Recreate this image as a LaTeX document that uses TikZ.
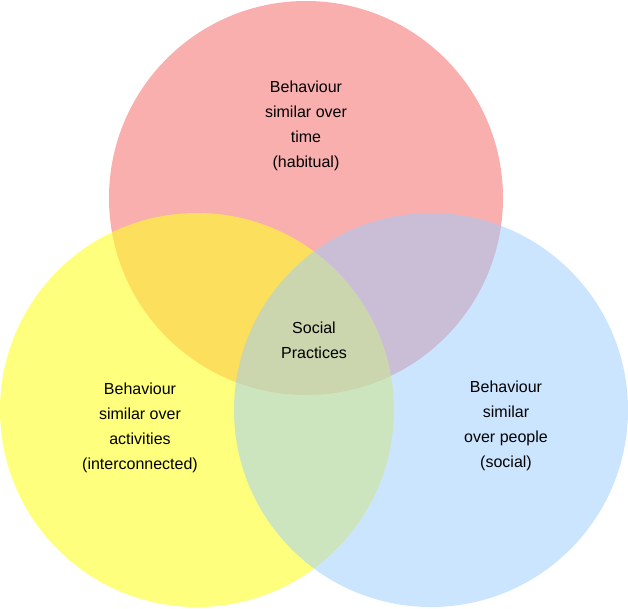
\documentclass[tikz,border=0pt]{standalone}
\usepackage{fontspec}
\setmainfont{Liberation Sans}
\begin{document}
\begin{tikzpicture}[x=1pt,y=-1pt,
  circ/.style={draw=none},
  lbl/.style={align=center,font=\fontsize{16}{25}\selectfont}]
\useasboundingbox (0,0) rectangle (628,608);
\fill[white] (0,0) rectangle (628,608);
\fill[circ,fill={rgb,255:red,250;green,175;blue,175}] (306,198) circle (197);
\fill[circ,fill opacity=0.6,fill={rgb,255:red,255;green,255;blue,40}] (197,410) circle (197);
\fill[circ,fill opacity=0.5,fill={rgb,255:red,155;green,205;blue,255}] (431,410) circle (197);
\node[lbl] (t) at (306,126) {Behaviour\\similar over\\time\\(habitual)};
\node[lbl] (l) at (140,428) {Behaviour\\similar over\\activities\\(interconnected)};
\node[lbl] (r) at (506,426) {Behaviour\\similar\\over people\\(social)};
\node[lbl] (c) at (314,340) {Social\\Practices};
\end{tikzpicture}
\end{document}
